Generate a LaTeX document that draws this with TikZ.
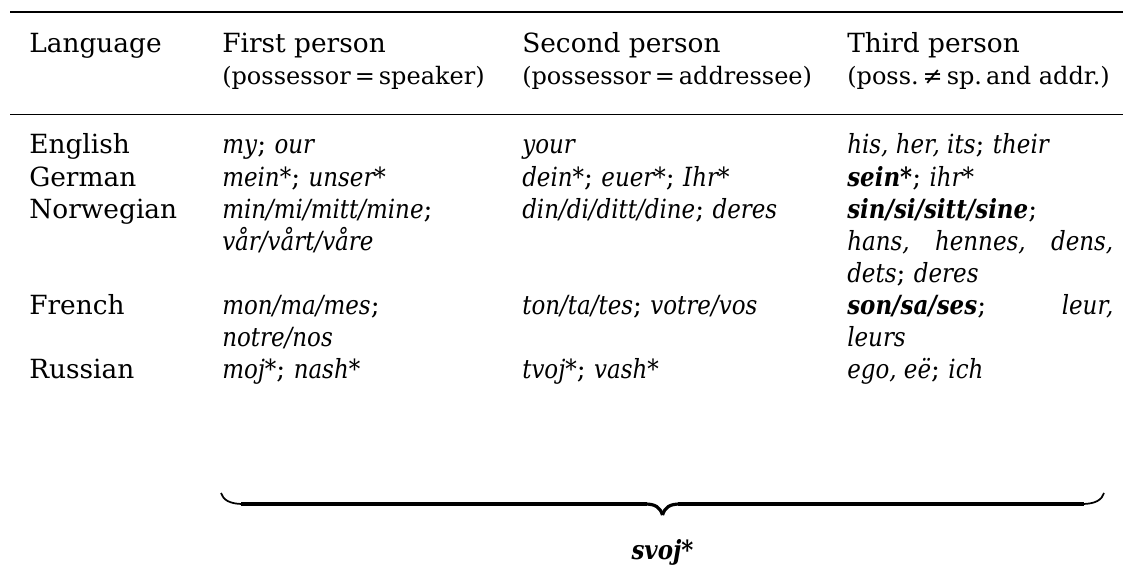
\documentclass[tikz,border=0pt]{standalone}
\usepackage{fontspec}
\setmainfont{DejaVu Serif}[
  ItalicFeatures={FakeStretch=0.87},
  BoldItalicFeatures={FakeStretch=0.87}]
\newcommand{\bodysize}{\fontsize{19.8pt}{24pt}\selectfont}
\newcommand{\notesize}{\fontsize{18pt}{21pt}\selectfont}
\newcommand{\iw}[1]{\textit{#1}}
\newcommand{\bw}[1]{\textbf{\textit{#1}}}
\begin{document}
\begin{tikzpicture}[x=0.75pt,y=-0.75pt,
  cell/.style={anchor=base west, inner sep=0pt, font=\bodysize},
  note/.style={anchor=base west, inner sep=0pt, font=\notesize},
  toprule/.style={line width=1.7pt},
  midrule/.style={line width=1pt},
  hook/.style={line width=1.3pt},
  bar/.style={line width=3pt},
  tip/.style={line width=2.4pt}]
\useasboundingbox (0,0) rectangle (1123,581);

% rules
\draw[toprule] (10,12) -- (1123,12);
\draw[midrule] (10,114.5) -- (1123,114.5);

% header
\node[cell] (hLang) at (29,53) {Language};
\node[cell] (hOne) at (222,53) {First person};
\node[cell] (hTwo) at (522,53) {Second person};
\node[cell] (hThree) at (847,53) {Third person};
\node[note] (nOne) at (222,84.5) {(possessor\,=\,speaker)};
\node[note] (nTwo) at (522,84.5) {(possessor\,=\,addressee)};
\node[note] (nThree) at (847,84.5) {(poss.\,≠\,sp.\,and addr.)};

% English
\node[cell] (lEn) at (29,154) {English};
\node[cell] (aEn) at (222,154) {\iw{my}; \iw{our}};
\node[cell] (bEn) at (522,154) {\iw{your}};
\node[cell] (cEn) at (847,154) {\iw{his, her, its}; \iw{their}};
% German
\node[cell] (lDe) at (29,186) {German};
\node[cell] (aDe) at (222,186) {\iw{mein*}; \iw{unser*}};
\node[cell] (bDe) at (522,186) {\iw{dein*}; \iw{euer*}; \iw{Ihr*}};
\node[cell] (cDe) at (847,186) {\bw{sein*}; \iw{ihr*}};
% Norwegian
\node[cell] (lNo) at (29,218) {Norwegian};
\node[cell] (aNo) at (222,218) {\iw{min/mi/mitt/mine};};
\node[cell] (aNoB) at (222,250) {\iw{vår/vårt/våre}};
\node[cell] (bNo) at (522,218) {\iw{din/di/ditt/dine}; \iw{deres}};
\node[cell] (cNo) at (847,218) {\bw{sin/si/sitt/sine};};
\node[cell] (cNoB) at (847,250) {\makebox[199.5pt][s]{\iw{hans,} \iw{hennes,} \iw{dens,}}};
\node[cell] (cNoC) at (847,282) {\iw{dets}; \iw{deres}};
% French
\node[cell] (lFr) at (29,314) {French};
\node[cell] (aFr) at (222,314) {\iw{mon/ma/mes};};
\node[cell] (aFrB) at (222,346) {\iw{notre/nos}};
\node[cell] (bFr) at (522,314) {\iw{ton/ta/tes}; \iw{votre/vos}};
\node[cell] (cFr) at (847,314) {\makebox[199.5pt][s]{\bw{son/sa/ses}; \iw{leur,}}};
\node[cell] (cFrB) at (847,346) {\iw{leurs}};
% Russian
\node[cell] (lRu) at (29,378) {Russian};
\node[cell] (aRu) at (222,378) {\iw{moj*}; \iw{nash*}};
\node[cell] (bRu) at (522,378) {\iw{tvoj*}; \iw{vash*}};
\node[cell] (cRu) at (847,378) {\iw{ego, eë}; \iw{ich}};

% brace under the three person columns
\coordinate (braceL) at (221,493);
\coordinate (braceR) at (1104,493);
\coordinate (braceTip) at (662.5,515);
\draw[hook] (braceL) .. controls (223,500) and (230,504) .. (243,504);
\draw[hook] (braceR) .. controls (1102,500) and (1095,504) .. (1082,504);
\draw[bar] (241,504) -- (647,504);
\draw[bar] (678,504) -- (1084,504);
\draw[tip] (645,504) .. controls (655,504) and (660,507) .. (braceTip);
\draw[tip] (680,504) .. controls (670,504) and (665,507) .. (braceTip);

\node[anchor=base, inner sep=0pt, font=\bodysize] (svoj) at (662.5,559) {\bw{svoj*}};
\end{tikzpicture}
\end{document}
